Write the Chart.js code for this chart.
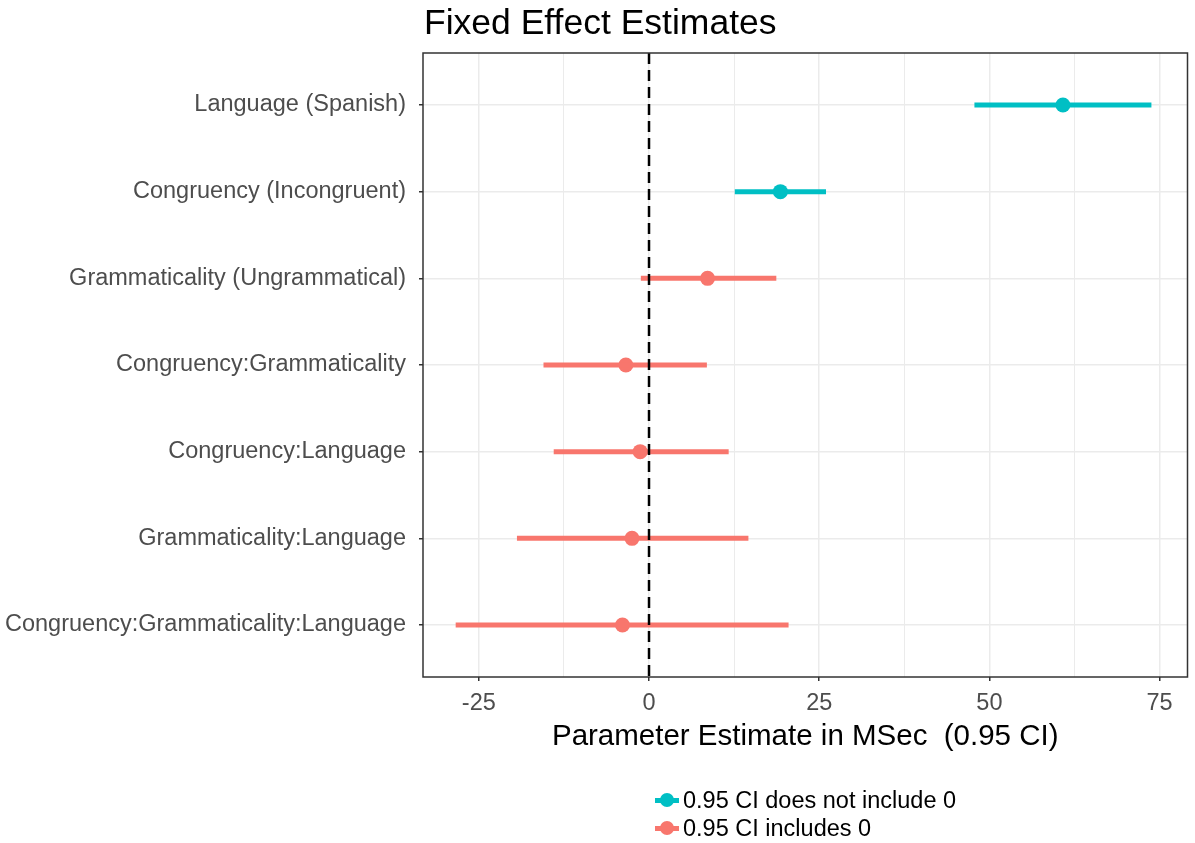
<!DOCTYPE html>
<html>
<head>
<meta charset="utf-8">
<title>Fixed Effect Estimates</title>
<script src="https://cdn.jsdelivr.net/npm/chart.js@4.4.1/dist/chart.umd.min.js"></script>
<style>
  body { margin: 0; background: #fff; font-family: "Liberation Sans", Arial, sans-serif; }
  #wrap { position: relative; width: 1195px; height: 843px; }
  #title { position: absolute; left: 424px; top: 4px; font-size: 35.5px; line-height: 36px; color: #000; }
  .leg { position: absolute; left: 655px; height: 24px; font-size: 23.5px; line-height: 24px; color: #000; white-space: nowrap; }
  .leg .key { position: absolute; left: 0; top: 0; width: 24px; height: 24px; }
  .leg .key::before { content: ""; position: absolute; left: 0; top: 9.5px; width: 24px; height: 5px; background: var(--c); }
  .leg .key::after { content: ""; position: absolute; left: 5px; top: 5px; width: 14px; height: 14px; border-radius: 50%; background: var(--c); }
  .leg span.txt { position: absolute; left: 28px; top: 0; }
</style>
</head>
<body>
<div id="wrap">
  <canvas id="chart" width="1195" height="843"></canvas>
  <div id="title">Fixed Effect Estimates</div>
  <div class="leg" style="top:788px"><div class="key" style="--c:#00BFC4"></div><span class="txt">0.95 CI does not include 0</span></div>
  <div class="leg" style="top:816px"><div class="key" style="--c:#F8766D"></div><span class="txt">0.95 CI includes 0</span></div>
</div>
<script>
// terms, top to bottom
const terms = [
  'Language (Spanish)',
  'Congruency (Incongruent)',
  'Grammaticality (Ungrammatical)',
  'Congruency:Grammaticality',
  'Congruency:Language',
  'Grammaticality:Language',
  'Congruency:Grammaticality:Language'
];
const estimates = [60.8, 19.3, 8.6, -3.4, -1.3, -2.5, -3.9];
const ciLow     = [47.8, 12.6, -1.2, -15.5, -14.0, -19.4, -28.4];
const ciHigh    = [73.8, 26.0, 18.7, 8.5, 11.7, 14.6, 20.5];

const xTicks = [-25, -12.5, 0, 12.5, 25, 37.5, 50, 62.5, 75];
const xRange = [-33.2, 79.1];

const TEAL = '#00BFC4', SALMON = '#F8766D';
const colorFor = i => (ciLow[i] > 0 || ciHigh[i] < 0) ? TEAL : SALMON;

const ciSets = terms.map((t, i) => ({
  label: t,
  data: [{ x: ciLow[i], y: i }, { x: ciHigh[i], y: i }],
  showLine: true,
  borderColor: colorFor(i),
  borderWidth: 5,
  borderCapStyle: 'butt',
  pointRadius: 0,
  pointHoverRadius: 0,
}));

const pointSet = {
  label: 'estimate',
  data: estimates.map((e, i) => ({ x: e, y: i })),
  pointRadius: 7.5,
  pointHoverRadius: 7.5,
  pointBorderWidth: 0,
  pointBackgroundColor: terms.map((t, i) => colorFor(i)),
};

// zero line + panel border
const panelDeco = {
  id: 'panelDeco',
  afterDatasetsDraw(chart) {
    const { ctx, chartArea: a, scales } = chart;
    const x0 = scales.x.getPixelForValue(0);
    ctx.save();
    ctx.strokeStyle = '#000';
    ctx.lineWidth = 2.5;
    ctx.setLineDash([11, 6]);
    ctx.beginPath();
    ctx.moveTo(x0, a.top);
    ctx.lineTo(x0, a.bottom);
    ctx.stroke();
    ctx.setLineDash([]);
    ctx.strokeStyle = '#333333';
    ctx.lineWidth = 1.5;
    ctx.strokeRect(a.left, a.top, a.right - a.left, a.bottom - a.top);
    ctx.restore();
  }
};

new Chart(document.getElementById('chart'), {
  type: 'scatter',
  data: { datasets: [...ciSets, pointSet] },
  plugins: [panelDeco],
  options: {
    responsive: false,
    animation: false,
    layout: { padding: { top: 53, right: 4, bottom: 86, left: 0 } },
    plugins: { legend: { display: false }, tooltip: { enabled: false } },
    scales: {
      x: {
        type: 'linear',
        min: xRange[0],
        max: xRange[1],
        afterBuildTicks: s => { s.ticks = xTicks.map(v => ({ value: v })); },
        afterFit: s => { s.height = 80; },
        border: { display: false },
        grid: {
          color: '#EBEBEB',
          lineWidth: c => (c.tick && c.tick.value % 25 === 0) ? 1.5 : 1,
          tickLength: 4,
          tickColor: c => (c.tick && c.tick.value % 25 === 0) ? '#333333' : 'rgba(0,0,0,0)',
        },
        ticks: {
          padding: 8,
          color: '#4D4D4D',
          font: { family: '"Liberation Sans", Arial, sans-serif', size: 23.5 },
          callback: v => v % 25 === 0 ? String(v) : '',
        },
        title: {
          display: true,
          text: 'Parameter Estimate in MSec  (0.95 CI)',
          color: '#000',
          padding: { top: 0, bottom: 2 },
          font: { family: '"Liberation Sans", Arial, sans-serif', size: 29.5 },
        },
      },
      y: {
        type: 'linear',
        reverse: true,
        min: -0.6,
        max: terms.length - 0.4,
        afterBuildTicks: s => { s.ticks = terms.map((t, i) => ({ value: i })); },
        afterFit: s => { s.width = 423; },
        border: { display: false },
        grid: { color: '#EBEBEB', lineWidth: 1.5, tickLength: 4, tickColor: '#333333' },
        ticks: {
          padding: 13,
          color: '#4D4D4D',
          font: { family: '"Liberation Sans", Arial, sans-serif', size: 23.5 },
          callback: v => terms[v],
        },
      },
    },
  },
});
</script>
</body>
</html>
